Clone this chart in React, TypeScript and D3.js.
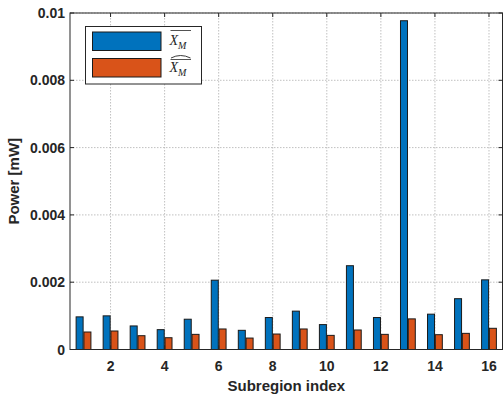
import React from "react";
import * as d3 from "d3";

// subregion indices and the two power series (mW)
const regions = d3.range(1, 17);
const meanPower = [0.00097, 0.001, 0.0007, 0.00059, 0.0009, 0.00206, 0.00057, 0.00095,
  0.00114, 0.00074, 0.00249, 0.00095, 0.00977, 0.00105, 0.00151, 0.00207];
const estPower = [0.00052, 0.00055, 0.00041, 0.00035, 0.00045, 0.00061, 0.00034, 0.00046,
  0.00061, 0.00042, 0.00058, 0.00045, 0.00091, 0.00044, 0.00048, 0.00063];
const xTicks = [2, 4, 6, 8, 10, 12, 14, 16];
const yTicks = [0, 0.002, 0.004, 0.006, 0.008, 0.01];

const W = 503, H = 399;
const m = { left: 70, right: 0.5, top: 13, bottom: 49.5 };
const BLUE = "#0072BD";
const ORANGE = "#D95319";
const font = "'Liberation Sans', Arial, sans-serif";

const App: React.FC = () => {
  const x = d3.scaleLinear().domain([0.5, 16.5]).range([m.left, W - m.right]);
  const y = d3.scaleLinear().domain([0, 0.01]).range([H - m.bottom, m.top]);
  const barW = 7;
  const off = 3.9;

  const yFmt = (v: number) => (v === 0 ? "0" : d3.format("~g")(v));

  return (
    <svg width={W} height={H} style={{ position: "absolute", left: 0, top: 0, background: "#fff" }}>
      {/* grid */}
      <g stroke="#b0b0b0" strokeWidth={0.8} strokeDasharray="1.5,1.5">
        {xTicks.map(t => (
          <line key={"gx" + t} x1={x(t)} x2={x(t)} y1={y(0)} y2={y(0.01)} />
        ))}
        {yTicks.slice(1).map(t => (
          <line key={"gy" + t} x1={x(0.5)} x2={x(16.5)} y1={y(t)} y2={y(t)} />
        ))}
      </g>
      {/* bars */}
      <g stroke="#1a1a1a" strokeWidth={1}>
        {regions.map((r, i) => (
          <g key={r}>
            <rect x={x(r) - off - barW / 2} y={y(meanPower[i])} width={barW}
              height={y(0) - y(meanPower[i])} fill={BLUE} />
            <rect x={x(r) + off - barW / 2} y={y(estPower[i])} width={barW}
              height={y(0) - y(estPower[i])} fill={ORANGE} />
          </g>
        ))}
      </g>
      {/* box and ticks */}
      <g stroke="#262626" strokeWidth={1} fill="none">
        <rect x={x(0.5)} y={y(0.01)} width={x(16.5) - x(0.5)} height={y(0) - y(0.01)} />
        {xTicks.map(t => (
          <g key={"tx" + t}>
            <line x1={x(t)} x2={x(t)} y1={y(0)} y2={y(0) - 4} />
            <line x1={x(t)} x2={x(t)} y1={y(0.01)} y2={y(0.01) + 4} />
          </g>
        ))}
        {yTicks.map(t => (
          <g key={"ty" + t}>
            <line x1={x(0.5)} x2={x(0.5) + 4} y1={y(t)} y2={y(t)} />
            <line x1={x(16.5)} x2={x(16.5) - 4} y1={y(t)} y2={y(t)} />
          </g>
        ))}
      </g>
      {/* tick labels */}
      <g fontFamily={font} fontWeight="bold" fontSize={14} fill="#262626">
        {xTicks.map(t => (
          <text key={"lx" + t} x={x(t)} y={y(0) + 21} textAnchor="middle">{t}</text>
        ))}
        {yTicks.map(t => (
          <text key={"ly" + t} x={x(0.5) - 5} y={y(t) + 5} textAnchor="end">{yFmt(t)}</text>
        ))}
        <text x={(x(0.5) + x(16.5)) / 2} y={391} textAnchor="middle" fontSize={15}>Subregion index</text>
        <text transform={`translate(19,${(y(0) + y(0.01)) / 2}) rotate(-90)`} textAnchor="middle" fontSize={15}>Power [mW]</text>
      </g>
      {/* legend */}
      <g>
        <rect x={85.5} y={26.5} width={116} height={57.5} fill="#fff" stroke="#262626" strokeWidth={1} />
        <rect x={92.5} y={32} width={68.5} height={18.5} fill={BLUE} stroke="#1a1a1a" />
        <rect x={92.5} y={58.5} width={68.5} height={18.5} fill={ORANGE} stroke="#1a1a1a" />
        <g fontFamily="'Liberation Serif', 'Times New Roman', serif" fontStyle="italic" fill="#262626">
          <text x={169.5} y={45} fontSize={14}>X<tspan fontSize={10} dy={4}>M</tspan></text>
          <line x1={170.5} x2={191} y1={30.5} y2={30.5} stroke="#262626" strokeWidth={0.8} />
          <text x={169.5} y={72} fontSize={14}>X<tspan fontSize={10} dy={4}>M</tspan></text>
          <line x1={170.5} x2={191} y1={59.5} y2={59.5} stroke="#262626" strokeWidth={0.8} />
          <path d="M171,58 Q180.5,53 190.5,58" fill="none" stroke="#262626" strokeWidth={0.9} />
        </g>
      </g>
    </svg>
  );
};

export default App;
